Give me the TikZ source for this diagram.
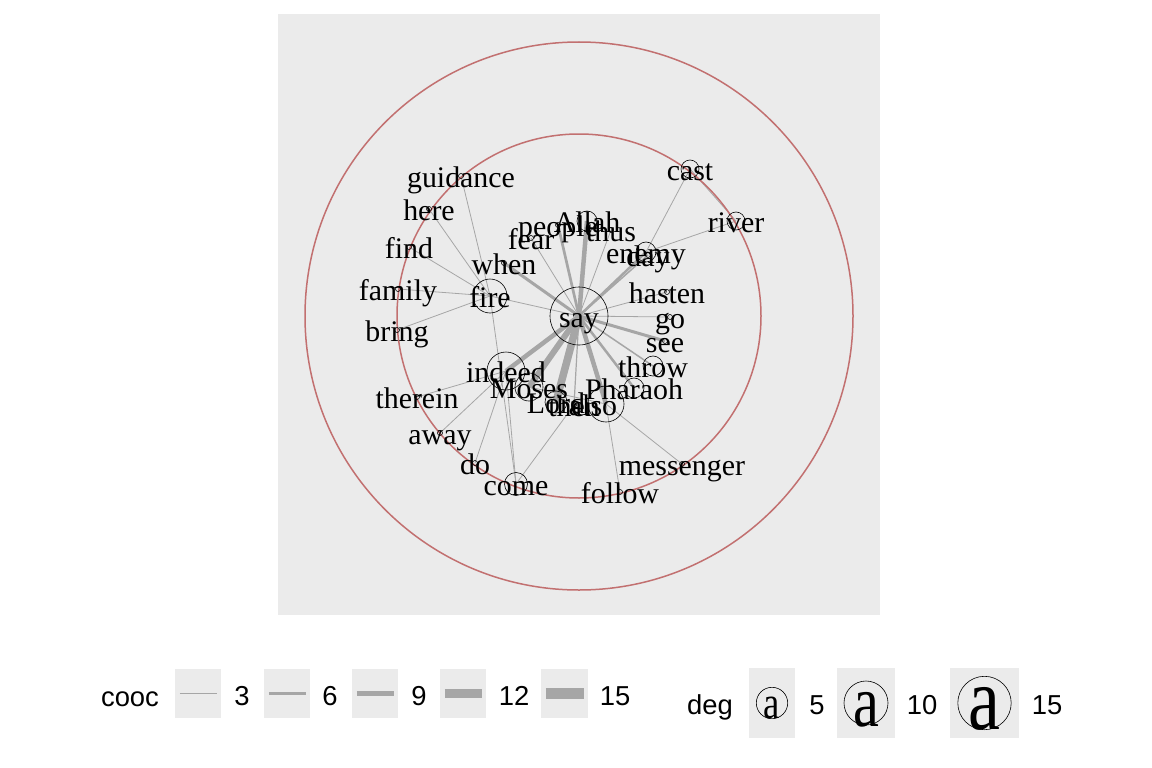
\documentclass[tikz,border=0pt]{standalone}
\usepackage{fontspec}
\usepackage{graphicx}
\setmainfont{Liberation Serif}
\newfontfamily\legendfont{Liberation Sans}
\usetikzlibrary{backgrounds}
\definecolor{panel}{HTML}{EBEBEB}
\definecolor{ring}{HTML}{C27070}
\definecolor{linkgray}{HTML}{A6A6A6}

\begin{document}
\begin{tikzpicture}[x=1bp,y=-1bp,
    vtx/.style={circle,draw=black,line width=.6bp,inner sep=0pt,minimum size=#1*2bp},
    word/.style={inner sep=0pt,text height=23bp,text depth=0pt,font=\fontsize{30}{30}\selectfont},
    link/.style={draw=linkgray,line width=#1bp},
    link/.default=.8,
    keybox/.style={fill=panel,inner sep=0pt,minimum height=49bp,minimum width=#1bp},
    keytext/.style={font=\legendfont\fontsize{27.5}{28}\selectfont,anchor=base,inner sep=0pt}]
  \begin{scope}[on background layer]
    \fill[white] (0,0) rectangle (1152,768);
    \fill[panel] (278,14) rectangle (880,615);
  \end{scope}
  % rings
  \draw[ring,line width=1.5bp] (579,316) circle[radius=182];
  \draw[ring,line width=1.5bp] (579,316) circle[radius=274];
  % words
  \node[vtx=29,label={[word]center:say}] (say) at (579,316) {};
  \node[vtx=17,label={[word]center:fire}] (fire) at (490,296) {};
  \node[vtx=19,label={[word]center:indeed}] (indeed) at (506,371) {};
  \node[vtx=14,label={[word]center:Moses}] (Moses) at (529,387) {};
  \node[vtx=11,label={[word]center:Lord}] (Lord) at (556,402) {};
  \node[vtx=2.5,label={[word]center:then}] (then) at (574,405) {};
  \node[vtx=18,label={[word,xshift=-13bp]center:also}] (also) at (606,404) {};
  \node[vtx=10,label={[word]center:Pharaoh}] (Pharaoh) at (634,388) {};
  \node[vtx=10,label={[word]center:throw}] (throw) at (653,366) {};
  \node[vtx=2.5,label={[word]center:see}] (see) at (665,341) {};
  \node[vtx=2.5,label={[word]center:go}] (go) at (670,317) {};
  \node[vtx=2.5,label={[word]center:hasten}] (hasten) at (667,292) {};
  \node[vtx=10,label={[word]center:enemy}] (enemy) at (646,252) {};
  \node[vtx=2.5,label={[word]center:day}] (day) at (648,255) {};
  \node[vtx=9,label={[word]center:cast}] (cast) at (690,169) {};
  \node[vtx=9,label={[word]center:river}] (river) at (736,221) {};
  \node[vtx=10,label={[word]center:Allah}] (Allah) at (587,221) {};
  \node[vtx=2.5,label={[word]center:people}] (people) at (558,225) {};
  \node[vtx=2.5,label={[word]center:thus}] (thus) at (611,230) {};
  \node[vtx=2.5,label={[word]center:fear}] (fear) at (531,238) {};
  \node[vtx=2.5,label={[word]center:when}] (when) at (504,263) {};
  \node[vtx=2.5,label={[word]center:guidance}] (guidance) at (461,176) {};
  \node[vtx=2.5,label={[word]center:here}] (here) at (429,209) {};
  \node[vtx=2.5,label={[word]center:find}] (find) at (409,247) {};
  \node[vtx=2.5,label={[word]center:family}] (family) at (398,289) {};
  \node[vtx=2.5,label={[word]center:bring}] (bring) at (397,330) {};
  \node[vtx=2.5,label={[word]center:therein}] (therein) at (417,397) {};
  \node[vtx=2.5,label={[word]center:away}] (away) at (440,433) {};
  \node[vtx=2.5,label={[word]center:do}] (do) at (475,463) {};
  \node[vtx=11.5,label={[word]center:come}] (come) at (516,484) {};
  \node[vtx=2.5,label={[word]center:follow}] (follow) at (620,492) {};
  \node[vtx=2.5,label={[word]center:messenger}] (messenger) at (682,464) {};
  % co-occurrence links
  \begin{scope}[on background layer]
    \draw[link=4.5] (say.center) -- (Allah.center);
    \draw[link=2.7] (say.center) -- (people.center);
    \draw[link] (say.center) -- (fear.center);
    \draw[link] (say.center) -- (thus.center);
    \draw[link=3] (say.center) -- (when.center);
    \draw[link] (say.center) -- (fire.center);
    \draw[link=2.5] (say.center) -- (enemy.center);
    \draw[link=1.5] (say.center) -- (day.center);
    \draw[link] (say.center) -- (hasten.center);
    \draw[link] (say.center) -- (go.center);
    \draw[link=3] (say.center) -- (see.center);
    \draw[link=1.5] (say.center) -- (throw.center);
    \draw[link=2.5] (say.center) -- (Pharaoh.center);
    \draw[link=4.5] (say.center) -- (also.center);
    \draw[link=1.2] (say.center) -- (then.center);
    \draw[link=7.5] (say.center) -- (Lord.center);
    \draw[link=6] (say.center) -- (Moses.center);
    \draw[link=4.5] (say.center) -- (indeed.center);
    \draw[link] (fire.center) -- (guidance.center);
    \draw[link] (fire.center) -- (here.center);
    \draw[link] (fire.center) -- (find.center);
    \draw[link] (fire.center) -- (family.center);
    \draw[link] (fire.center) -- (bring.center);
    \draw[link] (fire.center) -- (come.center);
    \draw[link] (indeed.center) -- (therein.center);
    \draw[link] (indeed.center) -- (away.center);
    \draw[link] (indeed.center) -- (do.center);
    \draw[link] (indeed.center) -- (come.center);
    \draw[link] (come.center) -- (then.center);
    \draw[link] (Moses.center) -- (also.center);
    \draw[link] (also.center) -- (follow.center);
    \draw[link] (also.center) -- (messenger.center);
    \draw[link] (enemy.center) -- (cast.center);
    \draw[link] (enemy.center) -- (river.center);
    \draw[link] (cast.center) -- (river.center);
  \end{scope}
  % legend: cooc
  \node[keytext] (cooc) at (130,706) {cooc};
  \node[keybox=46] (c3) at (198,693.5) {};
  \node[keybox=46] (c6) at (287,693.5) {};
  \node[keybox=46] (c9) at (375,693.5) {};
  \node[keybox=46] (c12) at (463,693.5) {};
  \node[keybox=47] (c15) at (564.5,693.5) {};
  \draw[link=1] ([xshift=5bp]c3.west) -- ([xshift=-4bp]c3.east);
  \draw[link=3.6] ([xshift=5bp]c6.west) -- ([xshift=-4bp]c6.east);
  \draw[link=5] ([xshift=5bp]c9.west) -- ([xshift=-4bp]c9.east);
  \draw[link=8.2] ([xshift=5bp]c12.west) -- ([xshift=-4bp]c12.east);
  \draw[link=10.4] ([xshift=5bp]c15.west) -- ([xshift=-4bp]c15.east);
  \node[keytext] (t3) at (242,705) {3};
  \node[keytext] (t6) at (330,705) {6};
  \node[keytext] (t9) at (419,705) {9};
  \node[keytext] (t12) at (514,705) {12};
  \node[keytext] (t15) at (615,705) {15};
  % legend: deg
  \node[keytext] (deg) at (710,714) {deg};
  \node[keybox=46,minimum height=70bp] (d5) at (772,703) {};
  \node[keybox=58,minimum height=70bp] (d10) at (866,703) {};
  \node[keybox=69,minimum height=70bp] (d15) at (984.5,703) {};
  \node[vtx=15.7] (r5) at (d5) {};
  \node[vtx=22] (r10) at (d10) {};
  \node[vtx=26.7] (r15) at (d15) {};
  \node[anchor=base,inner sep=0pt,font=\fontsize{46}{46}\selectfont] (a5) at (772,718) {\scalebox{.8}[1]{a}};
  \node[anchor=base,inner sep=0pt,font=\fontsize{73}{73}\selectfont] (a10) at (866,726) {\scalebox{.8}[1]{a}};
  \node[anchor=base,inner sep=0pt,font=\fontsize{90}{90}\selectfont] (a15) at (984.5,729) {\scalebox{.8}[1]{a}};
  \node[keytext] (t5) at (817,714) {5};
  \node[keytext] (t10) at (922,714) {10};
  \node[keytext] (t15d) at (1047,714) {15};
\end{tikzpicture}
\end{document}
